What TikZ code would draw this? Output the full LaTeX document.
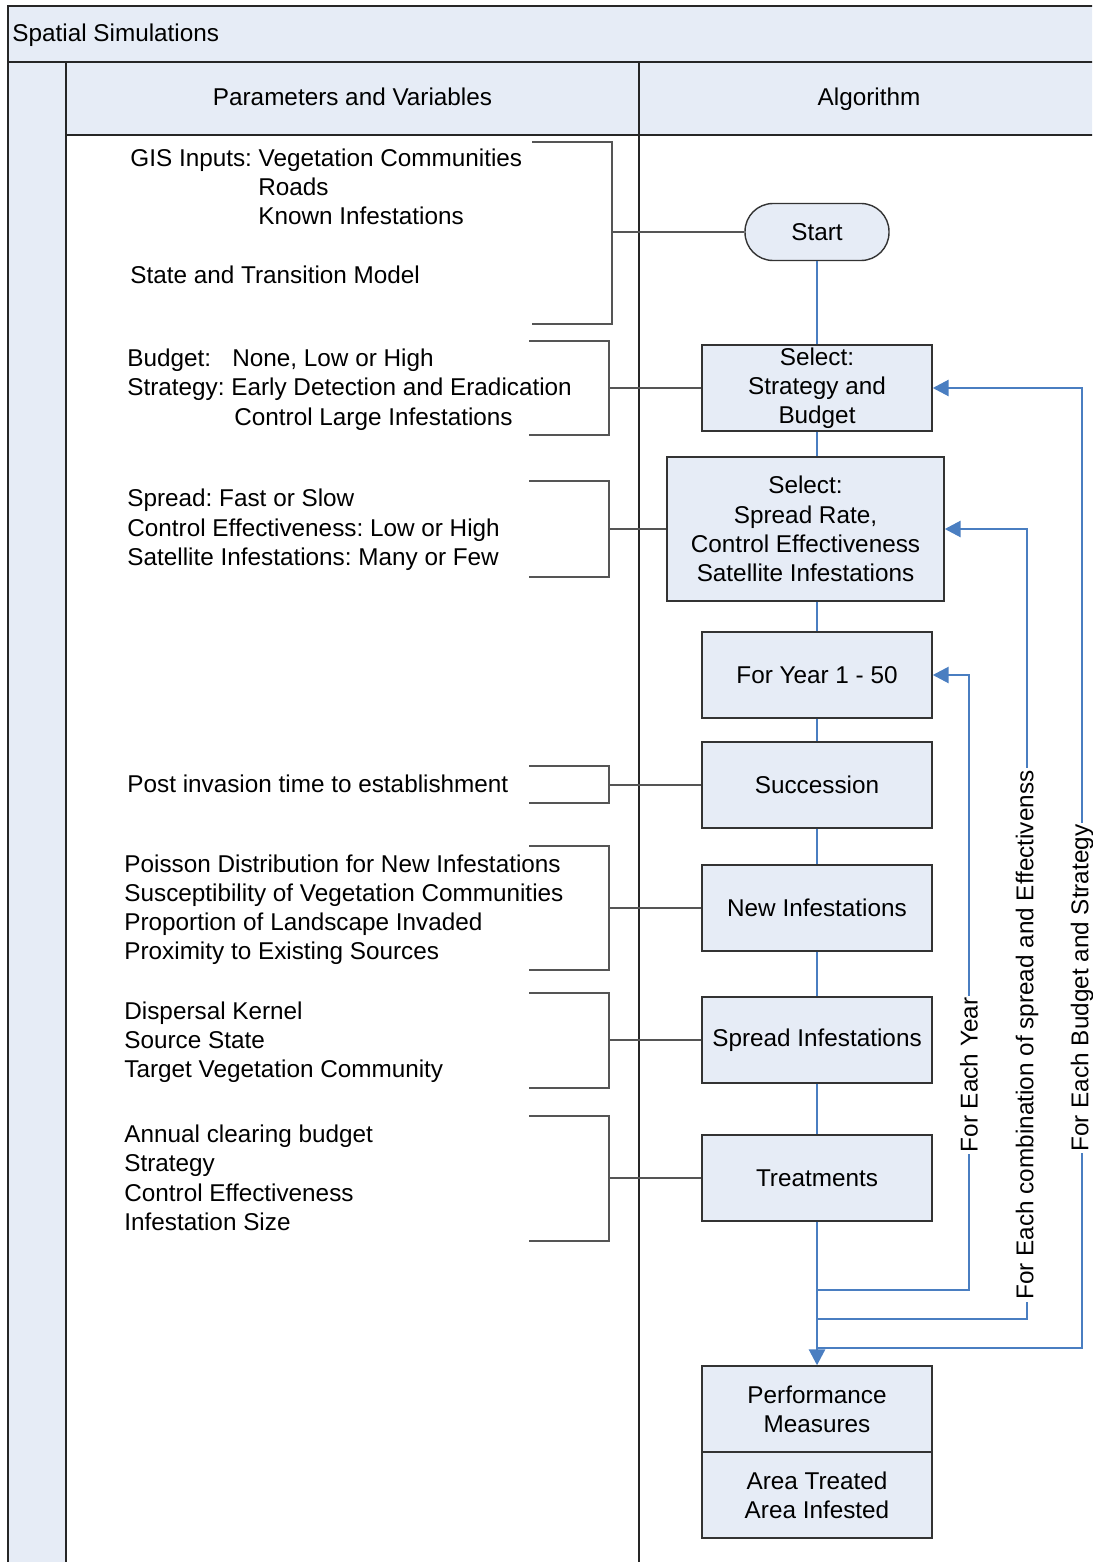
\documentclass[tikz,border=0pt]{standalone}
\usepackage{fontspec}
\setmainfont{Liberation Sans}
\usetikzlibrary{arrows.meta}
\definecolor{lanefill}{RGB}{230,236,246}
\definecolor{flowblue}{RGB}{74,126,193}
\definecolor{brkgray}{RGB}{85,85,85}
\frenchspacing
\begin{document}
\begin{tikzpicture}[x=0.5pt,y=-0.5pt,
  font=\fontsize{12.15}{14.6}\selectfont,
  txt/.style={anchor=base west, inner sep=0pt},
  hdr/.style={anchor=base, inner sep=0pt},
  box/.style={draw=black!80, fill=lanefill, line width=0.7pt, align=center,
              minimum width=115pt, minimum height=43pt, inner sep=1pt},
  flowline/.style={draw=flowblue, line width=1.4pt},
  arr/.style={flowline, -{Triangle[length=8pt,width=8pt]}},
  brline/.style={draw=brkgray, line width=0.7pt},
  lane/.style={draw=black!85, line width=1pt},
  looplbl/.style={rotate=90, fill=white, inner sep=1pt}]
\clip (0,0) rectangle (1092,1562);
% lane fills
\fill[lanefill] (8,6) rectangle (1100,62);
\fill[lanefill] (8,62) rectangle (66,1570);
\fill[lanefill] (66,62) rectangle (1100,135);
% lane lines
\draw[lane] (8,1570) -- (8,6) -- (1100,6);
\draw[lane] (8,62) -- (1100,62);
\draw[lane] (66,62) -- (66,1570);
\draw[lane] (66,135) -- (1100,135);
\draw[lane] (639,62) -- (639,1570);
% headers
\node[txt] (title) at (12,42) {Spatial Simulations};
\node[hdr] (hpar) at (352.5,106) {Parameters and Variables};
\node[hdr] (halg) at (869,106) {Algorithm};
% parameter texts
\node[txt] (g1) at (130,167) {GIS Inputs: Vegetation Communities};
\node[txt] (g2) at (258,196) {Roads};
\node[txt] (g3) at (258,225) {Known Infestations};
\node[txt] (g4) at (130,283) {State and Transition Model};
\node[txt] (b1) at (127,366) {Budget:};
\node[txt] (b1b) at (232,366) {None, Low or High};
\node[txt] (b2) at (127,395) {Strategy: Early Detection and Eradication};
\node[txt] (b3) at (234,425) {Control Large Infestations};
\node[txt] (s1) at (127,506) {Spread: Fast or Slow};
\node[txt] (s2) at (127,536) {Control Effectiveness: Low or High};
\node[txt] (s3) at (127,565) {Satellite Infestations: Many or Few};
\node[txt] (pi1) at (127,792) {Post invasion time to establishment};
\node[txt] (n1) at (124,872) {Poisson Distribution for New Infestations};
\node[txt] (n2) at (124,901) {Susceptibility of Vegetation Communities};
\node[txt] (n3) at (124,930) {Proportion of Landscape Invaded};
\node[txt] (n4) at (124,959) {Proximity to Existing Sources};
\node[txt] (d1) at (124,1019) {Dispersal Kernel};
\node[txt] (d2) at (124,1048) {Source State};
\node[txt] (d3) at (124,1077) {Target Vegetation Community};
\node[txt] (t1) at (124,1142) {Annual clearing budget};
\node[txt] (t2) at (124,1171) {Strategy};
\node[txt] (t3) at (124,1201) {Control Effectiveness};
\node[txt] (t4) at (124,1230) {Infestation Size};
% algorithm boxes
\node[box, rounded corners=14pt, minimum width=72pt, minimum height=28.5pt] (start) at (817,232) {Start};
\node[box] (sel1) at (817,388) {Select:\\Strategy and\\Budget};
\node[box, minimum width=138.5pt, minimum height=72pt] (sel2) at (805.5,529) {Select:\\Spread Rate,\\Control Effectiveness\\Satellite Infestations};
\node[box] (year) at (817,675) {For Year 1 - 50};
\node[box] (succ) at (817,785) {Succession};
\node[box] (newinf) at (817,908) {New Infestations};
\node[box] (spread) at (817,1040) {Spread Infestations};
\node[box] (treat) at (817,1178) {Treatments};
\node[box] (perf) at (817,1409) {Performance\\Measures};
\node[box] (area) at (817,1495) {Area Treated\\Area Infested};
% brackets
\coordinate (k1) at (612,232);
\coordinate (k2) at (609,388);
\coordinate (k3) at (609,529);
\coordinate (k4) at (609,785);
\coordinate (k5) at (609,908);
\coordinate (k6) at (609,1040);
\coordinate (k7) at (609,1178);
\draw[brline] (532,142) -| (612,324) -- (532,324);
\draw[brline] (529,341) -| (609,435) -- (529,435);
\draw[brline] (529,481) -| (609,577) -- (529,577);
\draw[brline] (529,766) -| (609,803) -- (529,803);
\draw[brline] (529,846) -| (609,970) -- (529,970);
\draw[brline] (529,993) -| (609,1088) -- (529,1088);
\draw[brline] (529,1116) -| (609,1241) -- (529,1241);
\draw[brline] (k1) -- (start.west);
\draw[brline] (k2) -- (sel1.west);
\draw[brline] (k3) -- (sel2.west);
\draw[brline] (k4) -- (succ.west);
\draw[brline] (k5) -- (newinf.west);
\draw[brline] (k6) -- (spread.west);
\draw[brline] (k7) -- (treat.west);
% flow
\draw[flowline] (start.south) -- (sel1.north);
\draw[flowline] (sel1.south) -- (sel1.south |- sel2.north);
\draw[flowline] (year.north |- sel2.south) -- (year.north);
\draw[flowline] (year.south) -- (succ.north);
\draw[flowline] (succ.south) -- (newinf.north);
\draw[flowline] (newinf.south) -- (spread.north);
\draw[flowline] (spread.south) -- (treat.north);
\draw[arr] (treat.south) -- (perf.north);
% loops
\coordinate (j1) at (817,1290);
\coordinate (j2) at (817,1319);
\coordinate (j3) at (817,1348);
\coordinate (c1) at (969,675);
\coordinate (c2) at (1027,529);
\coordinate (c3) at (1082,388);
\draw[arr] (j1) -| (c1) -- (year.east);
\draw[arr] (j2) -| (c2) -- (sel2.east);
\draw[arr] (j3) -| (c3) -- (sel1.east);
\node[looplbl] (l1) at (969,1075) {For Each Year};
\node[looplbl] (l2) at (1027,1035) {For Each combination of spread and Effectivenss};
\node[looplbl] (l3) at (1082,988) {For Each Budget and Strategy};
\end{tikzpicture}
\end{document}
